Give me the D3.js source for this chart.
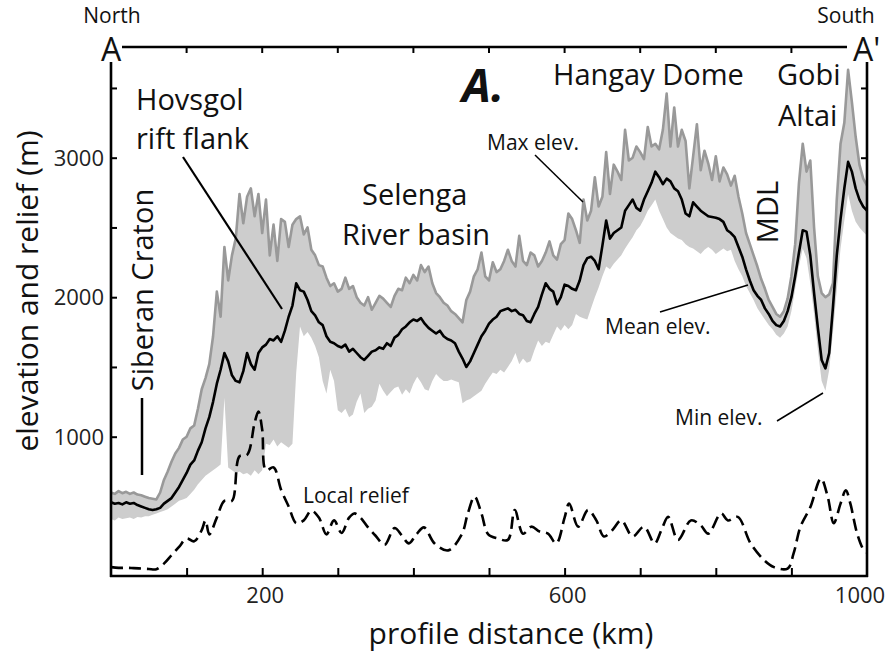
<!DOCTYPE html>
<html><head><meta charset="utf-8">
<script src="https://cdn.jsdelivr.net/npm/d3@7"></script>
<style>
body{margin:0;background:#fff;}
svg{display:block;font-family:"Open Sans",sans-serif;}
</style>
</head><body>
<svg id="c" width="890" height="658"></svg>
<script>
// profile distance sampling (km) for the elevation swath
const stepKm = 5;
const distKm = d3.range(0, 1000 + stepKm, stepKm);

// Mean elevation (m)
const meanElev = [
530,520,525,515,530,520,525,510,500,490,
480,475,480,490,520,540,560,600,640,690,
740,800,830,900,960,1060,1140,1250,1380,1480,
1600,1540,1440,1400,1390,1470,1600,1520,1480,1600,
1640,1660,1700,1690,1720,1680,1760,1860,1940,2100,
2050,2040,1980,1900,1870,1820,1800,1720,1680,1670,
1650,1640,1660,1610,1630,1600,1570,1550,1580,1610,
1620,1640,1630,1670,1650,1710,1730,1770,1790,1820,
1840,1830,1850,1810,1780,1760,1740,1760,1720,1700,
1690,1670,1610,1560,1500,1540,1600,1660,1720,1760,
1810,1840,1860,1900,1910,1920,1900,1910,1880,1870,
1830,1820,1880,1930,2020,2100,2060,2040,1950,2000,
2090,2080,2060,2050,2120,2230,2280,2290,2260,2200,
2370,2550,2420,2460,2480,2500,2620,2660,2700,2640,
2620,2700,2760,2820,2900,2860,2810,2850,2830,2780,
2760,2700,2600,2580,2680,2650,2620,2600,2580,2575,
2570,2560,2540,2480,2460,2430,2360,2290,2200,2120,
2050,2010,1980,1920,1880,1830,1800,1790,1830,1900,
2000,2150,2320,2480,2470,2300,2030,1780,1550,1490,
1600,1930,2300,2560,2780,2970,2900,2780,2700,2650,
2620];

// Max elevation (m)
const maxElev = [
600,590,610,595,605,590,600,585,580,570,
560,555,550,600,690,750,820,880,920,980,
1000,1060,1080,1200,1340,1420,1520,1720,2040,1860,
2360,2120,2300,2420,2740,2530,2720,2780,2580,2740,
2460,2700,2300,2520,2260,2560,2540,2360,2520,2560,
2580,2450,2500,2340,2300,2230,2220,2140,2080,2100,
2040,2060,2140,2060,2080,2000,1960,1940,2000,1910,
1960,2010,1990,1960,1930,2010,2060,2050,2140,2100,
2160,2120,2230,2180,2220,2100,2030,2000,1960,1940,
1900,1880,1850,1820,1980,2040,2150,2200,2320,2150,
2120,2250,2180,2200,2260,2340,2260,2220,2440,2260,
2230,2320,2300,2220,2260,2320,2400,2300,2270,2380,
2410,2600,2560,2480,2390,2700,2550,2620,2860,2650,
2720,3040,2740,2950,2900,2840,3200,2980,3000,3080,
3040,2990,3220,3080,3100,3060,3200,3460,3080,3360,
3080,3200,3120,2780,3010,3240,2910,3050,2960,2840,
3010,2830,2930,2880,2800,2870,2720,2600,2460,2380,
2300,2220,2130,2060,1980,1930,1880,1860,1900,1990,
2150,2380,2820,3100,2900,2980,2500,2150,2030,2000,
2020,2100,2700,3100,3250,3630,3400,3150,2950,2850,
2800];

// Min elevation (m)
const minElev = [
410,400,420,410,415,420,410,425,420,430,
430,440,450,460,470,480,500,520,540,550,
560,590,620,660,690,720,740,760,780,800,
1280,780,760,740,750,730,740,720,760,730,
760,950,940,980,930,960,940,920,950,1460,
1790,1720,1750,1710,1650,1570,1400,1310,1480,1400,
1190,1170,1200,1140,1160,1250,1310,1170,1200,1215,
1260,1380,1330,1290,1320,1350,1360,1300,1340,1310,
1380,1430,1390,1340,1330,1400,1450,1420,1400,1400,
1410,1400,1390,1240,1260,1270,1290,1310,1330,1380,
1420,1460,1450,1480,1460,1500,1540,1600,1520,1560,
1530,1540,1620,1690,1650,1680,1670,1730,1790,1760,
1800,1770,1800,1880,1860,1850,1840,1920,2000,2070,
2150,2220,2200,2240,2270,2300,2350,2390,2430,2480,
2510,2560,2620,2660,2700,2620,2560,2500,2460,2440,
2420,2410,2380,2360,2350,2330,2310,2340,2360,2340,
2310,2330,2350,2330,2340,2260,2200,2150,2080,2030,
1980,1920,1880,1840,1800,1770,1730,1710,1740,1790,
1900,2060,2220,2350,2280,2100,1880,1620,1400,1330,
1480,1750,2050,2350,2550,2740,2620,2540,2500,2470,
2440];

// Local relief (m)
const reliefKm = [0,10,20,30,40,50,60,70,80,90,100,110,120,125,130,140,150,160,170,180,190,195,200,205,215,225,235,245,255,265,275,285,295,305,315,322,330,340,350,362,375,385,394,404,414,428,446,464,472,481,490,499,512,525,534,545,556,567,578,589,600,606,618,631,642,652,663,675,690,705,719,728,737,750,767,780,790,807,816,829,846,864,877,895,903,912,925,939,948,956,965,972,978,987,996,1000];
const reliefVal = [65,60,60,58,55,52,50,90,150,210,270,250,330,400,300,420,540,540,860,870,1100,1180,1050,760,780,620,500,380,400,470,420,300,400,310,420,450,420,350,290,225,345,290,235,300,350,235,185,300,450,570,450,300,270,260,475,305,355,320,305,235,420,520,355,475,400,285,330,400,285,355,235,330,425,260,400,365,305,450,400,425,235,115,65,55,165,355,495,700,570,380,520,615,520,305,185,170];

// Axis ticks / labels
const xTickKm = [100,200,300,400,500,600,700,800,900];
const xLabelKm = [200,600,1000];
const yTickM = [500,1000,1500,2000,2500,3000,3500];
const yLabelM = [1000,2000,3000];
const yRightTickM = [3000,3500];

const svg = d3.select("#c");
const x = d3.scaleLinear().domain([0,1000]).range([111,867]);
const y = d3.scaleLinear().domain([0,3800]).range([576.2, 576.2-3800*0.1395]);

const rows = distKm.map((d,i)=>({d, mean:meanElev[i], max:maxElev[i], min:minElev[i]}));
const relief = reliefKm.map((d,i)=>({d, v:reliefVal[i]}));

svg.append("clipPath").attr("id","clip").append("rect")
  .attr("x",111).attr("y",40).attr("width",756).attr("height",536);

// ticks (under data)
const left = svg.append("g").attr("transform","translate(111,0)")
  .call(d3.axisRight(y).tickValues(yTickM).tickSize(6).tickFormat(""));
left.select(".domain").remove();
left.selectAll("line").attr("stroke","#000").attr("stroke-width",2);
const right = svg.append("g").attr("transform","translate(867,0)")
  .call(d3.axisLeft(y).tickValues(yRightTickM).tickSize(6).tickFormat(""));
right.select(".domain").remove();
right.selectAll("line").attr("stroke","#000").attr("stroke-width",2);
const bottom = svg.append("g").attr("transform","translate(0,576)")
  .call(d3.axisTop(x).tickValues(xTickKm).tickSize(8).tickFormat(""));
bottom.select(".domain").remove();
bottom.selectAll("line").attr("stroke","#000").attr("stroke-width",2);

const plot = svg.append("g").attr("clip-path","url(#clip)");
plot.append("path").datum(rows)
  .attr("fill","#cdcdcd")
  .attr("d", d3.area().x(r=>x(r.d)).y0(r=>y(r.min)).y1(r=>y(r.max)));
plot.append("path").datum(rows)
  .attr("fill","none").attr("stroke","#999").attr("stroke-width",2.6).attr("stroke-linejoin","round")
  .attr("d", d3.line().x(r=>x(r.d)).y(r=>y(r.max)));
plot.append("path").datum(rows)
  .attr("fill","none").attr("stroke","#000").attr("stroke-width",2.6).attr("stroke-linejoin","round")
  .attr("d", d3.line().x(r=>x(r.d)).y(r=>y(r.mean)));
plot.append("path").datum(relief)
  .attr("fill","none").attr("stroke","#000").attr("stroke-width",2.6)
  .attr("stroke-dasharray","12,6")
  .attr("d", d3.line().curve(d3.curveCatmullRom.alpha(0.5)).x(r=>x(r.d)).y(r=>y(r.v)));

// axis frame
const frame = svg.append("g").attr("stroke","#000").attr("stroke-width",2.6).attr("fill","none");
frame.append("line").attr("x1",111).attr("x2",111).attr("y1",62).attr("y2",577);
frame.append("line").attr("x1",867).attr("x2",867).attr("y1",62).attr("y2",577);
frame.append("line").attr("x1",110).attr("x2",868).attr("y1",576).attr("y2",576);
frame.append("line").attr("x1",122).attr("x2",847).attr("y1",47).attr("y2",47);
// top line ticks
svg.append("g").selectAll("line").data(xTickKm).join("line")
  .attr("x1",d=>x(d)).attr("x2",d=>x(d)).attr("y1",47).attr("y2",53)
  .attr("stroke","#000").attr("stroke-width",2);

// tick labels
svg.append("g").selectAll("text").data(xLabelKm).join("text")
  .attr("x",d=>x(d)+(d===1000?-7:3)).attr("y",603).attr("text-anchor","middle")
  .attr("font-size",22).attr("fill","#222").text(d=>d);
svg.append("g").selectAll("text").data(yLabelM).join("text")
  .attr("x",104).attr("y",d=>y(d)+8).attr("text-anchor","end")
  .attr("font-size",22).attr("fill","#222").text(d=>d);

// axis titles
svg.append("text").attr("x",511).attr("y",644).attr("text-anchor","middle")
  .attr("font-size",30).attr("fill","#111").text("profile distance (km)");
svg.append("text").attr("transform","translate(38,291) rotate(-90)").attr("text-anchor","middle")
  .attr("font-size",30).attr("fill","#111").text("elevation and relief (m)");

// end labels
function txt(t,xx,yy,size,anchor,extra){
  const e = svg.append("text").attr("x",xx).attr("y",yy).attr("font-size",size)
    .attr("text-anchor",anchor||"start").attr("fill","#111").text(t);
  if(extra) extra(e);
  return e;
}
txt("North",112,23,21,"middle");
txt("A",111,61,32,"middle");
txt("South",846,23,21,"middle");
txt("A'",853,61,32,"start");

// region labels
txt("Hovsgol",136,110,29);
txt("rift flank",136,149,29);
txt("Selenga",362,205,29);
txt("River basin",342,245,29);
txt("Hangay Dome",553,85,29);
txt("Gobi",777,85,29);
txt("Altai",778,126,29);
txt("A.",462,102,46,"start",e=>e.attr("font-weight","bold").attr("font-style","italic"));
svg.append("text").attr("transform","translate(153,290) rotate(-90)").attr("text-anchor","middle")
  .attr("font-size",29).attr("fill","#111").text("Siberan Craton");
svg.append("text").attr("transform","translate(778,212) rotate(-90)").attr("text-anchor","middle")
  .attr("font-size",29).attr("fill","#111").text("MDL");

// small labels
txt("Max elev.",487,150,21);
txt("Mean elev.",605,334,21);
txt("Min elev.",675,425,21);
txt("Local relief",303,503,21);

// leader lines
const lead = svg.append("g").attr("stroke","#000").attr("fill","none");
lead.append("line").attr("x1",142).attr("x2",142).attr("y1",398).attr("y2",475).attr("stroke-width",2.5);
lead.append("line").attr("x1",183).attr("y1",157).attr("x2",282).attr("y2",309).attr("stroke-width",2.2);
lead.append("line").attr("x1",535).attr("y1",155).attr("x2",583).attr("y2",202).attr("stroke-width",1.5);
lead.append("line").attr("x1",660).attr("y1",312).attr("x2",748).attr("y2",285).attr("stroke-width",1.5);
lead.append("line").attr("x1",777).attr("y1",421).attr("x2",823).attr("y2",393).attr("stroke-width",1.5);
</script>
</body></html>
